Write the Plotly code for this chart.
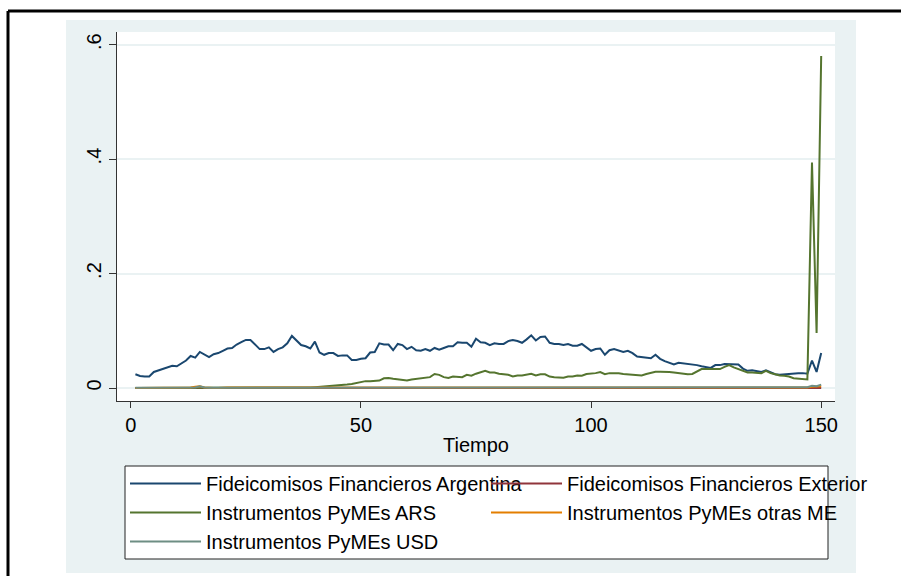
import plotly.graph_objects as go

# series, t = 1..150
tiempo = list(range(1, 151))

ff_argentina = [
    0.024, 0.021, 0.020, 0.020, 0.028, 0.031, 0.033, 0.037, 0.039, 0.038,
    0.043, 0.048, 0.056, 0.053, 0.063, 0.058, 0.054, 0.059, 0.061, 0.065,
    0.069, 0.070, 0.076, 0.080, 0.084, 0.084, 0.076, 0.068, 0.068, 0.071,
    0.063, 0.068, 0.071, 0.078, 0.091, 0.083, 0.075, 0.073, 0.069, 0.081,
    0.062, 0.058, 0.061, 0.061, 0.056, 0.057, 0.057, 0.049, 0.049, 0.051,
    0.052, 0.062, 0.063, 0.078, 0.076, 0.076, 0.066, 0.077, 0.075, 0.068,
    0.072, 0.066, 0.065, 0.068, 0.065, 0.070, 0.067, 0.070, 0.073, 0.073,
    0.080, 0.079, 0.079, 0.072, 0.086, 0.080, 0.079, 0.075, 0.078, 0.077,
    0.077, 0.082, 0.084, 0.082, 0.079, 0.085, 0.092, 0.083, 0.089, 0.090,
    0.079, 0.077, 0.077, 0.075, 0.077, 0.074, 0.074, 0.077, 0.071, 0.065,
    0.068, 0.069, 0.058, 0.066, 0.068, 0.065, 0.063, 0.065, 0.061, 0.055,
    0.054, 0.053, 0.052, 0.058, 0.051, 0.047, 0.044, 0.041, 0.044, 0.043,
    0.043, 0.042, 0.040, 0.038, 0.037, 0.035, 0.040, 0.040, 0.042, 0.042,
    0.041, 0.041, 0.034, 0.030, 0.031, 0.030, 0.028, 0.031, 0.027, 0.024,
    0.023, 0.024, 0.024, 0.025, 0.026, 0.026, 0.025, 0.048, 0.028, 0.061,
]

ff_exterior = [
    0.000, 0.000, 0.000, 0.000, 0.000, 0.000, 0.000, 0.000, 0.000, 0.000,
    0.000, 0.000, 0.000, 0.000, 0.000, 0.000, 0.000, 0.000, 0.000, 0.000,
    0.000, 0.000, 0.000, 0.000, 0.000, 0.000, 0.000, 0.000, 0.000, 0.000,
    0.000, 0.000, 0.000, 0.000, 0.000, 0.000, 0.000, 0.000, 0.000, 0.000,
    0.000, 0.000, 0.000, 0.000, 0.000, 0.000, 0.000, 0.000, 0.000, 0.000,
    0.000, 0.000, 0.000, 0.000, 0.000, 0.000, 0.000, 0.000, 0.000, 0.000,
    0.000, 0.000, 0.000, 0.000, 0.000, 0.000, 0.000, 0.000, 0.000, 0.000,
    0.000, 0.000, 0.000, 0.000, 0.000, 0.000, 0.000, 0.000, 0.000, 0.000,
    0.000, 0.000, 0.000, 0.000, 0.000, 0.000, 0.000, 0.000, 0.000, 0.000,
    0.000, 0.000, 0.000, 0.000, 0.000, 0.000, 0.000, 0.000, 0.000, 0.000,
    0.000, 0.000, 0.000, 0.000, 0.000, 0.000, 0.000, 0.000, 0.000, 0.000,
    0.000, 0.000, 0.000, 0.000, 0.000, 0.000, 0.000, 0.000, 0.000, 0.000,
    0.000, 0.000, 0.000, 0.000, 0.000, 0.000, 0.000, 0.000, 0.000, 0.000,
    0.000, 0.000, 0.000, 0.000, 0.000, 0.000, 0.000, 0.000, 0.000, 0.000,
    0.000, 0.000, 0.000, 0.000, 0.000, 0.000, 0.000, 0.000, 0.000, 0.000,
]

pymes_ars = [
    0.000, 0.000, 0.000, 0.000, 0.000, 0.000, 0.000, 0.000, 0.000, 0.000,
    0.000, 0.000, 0.000, 0.000, 0.000, 0.000, 0.000, 0.000, 0.000, 0.000,
    0.000, 0.000, 0.000, 0.000, 0.000, 0.000, 0.000, 0.000, 0.000, 0.000,
    0.000, 0.000, 0.000, 0.000, 0.000, 0.000, 0.000, 0.001, 0.001, 0.0015,
    0.002, 0.003, 0.0035, 0.004, 0.004, 0.005, 0.006, 0.007, 0.009, 0.010,
    0.012, 0.012, 0.013, 0.013, 0.017, 0.0175, 0.016, 0.015, 0.014, 0.013,
    0.015, 0.016, 0.016, 0.018, 0.019, 0.0245, 0.023, 0.019, 0.0175, 0.020,
    0.019, 0.019, 0.023, 0.0215, 0.025, 0.027, 0.030, 0.027, 0.027, 0.025,
    0.024, 0.023, 0.020, 0.022, 0.022, 0.024, 0.025, 0.022, 0.024, 0.024,
    0.020, 0.019, 0.019, 0.018, 0.020, 0.020, 0.022, 0.0215, 0.0245, 0.025,
    0.026, 0.028, 0.024, 0.026, 0.026, 0.0256, 0.0245, 0.024, 0.023, 0.023,
    0.022, 0.0245, 0.027, 0.0285, 0.0285, 0.0285, 0.028, 0.027, 0.026, 0.0245,
    0.024, 0.0245, 0.0285, 0.033, 0.033, 0.033, 0.034, 0.033, 0.037, 0.040,
    0.036, 0.033, 0.030, 0.027, 0.027, 0.027, 0.026, 0.030, 0.026, 0.024,
    0.022, 0.0215, 0.020, 0.017, 0.016, 0.016, 0.015, 0.394, 0.096, 0.580,
]

pymes_otras_me = [
    0.000, 0.000, 0.000, 0.000, 0.000, 0.000, 0.000, 0.000, 0.000, 0.000,
    0.000, 0.000, 0.001, 0.002, 0.003, 0.001, 0.000, 0.000, 0.000, 0.001,
    0.001, 0.001, 0.001, 0.001, 0.001, 0.001, 0.001, 0.001, 0.001, 0.001,
    0.001, 0.001, 0.001, 0.001, 0.001, 0.001, 0.001, 0.001, 0.000, 0.000,
    0.000, 0.000, 0.000, 0.000, 0.000, 0.000, 0.000, 0.000, 0.000, 0.000,
    0.000, 0.000, 0.000, 0.000, 0.000, 0.000, 0.000, 0.000, 0.000, 0.000,
    0.000, 0.000, 0.000, 0.000, 0.000, 0.000, 0.000, 0.000, 0.000, 0.000,
    0.000, 0.000, 0.000, 0.000, 0.000, 0.000, 0.000, 0.000, 0.000, 0.000,
    0.000, 0.000, 0.000, 0.000, 0.000, 0.000, 0.000, 0.000, 0.000, 0.000,
    0.000, 0.000, 0.000, 0.000, 0.000, 0.000, 0.000, 0.000, 0.000, 0.000,
    0.000, 0.000, 0.000, 0.000, 0.000, 0.000, 0.000, 0.000, 0.000, 0.000,
    0.000, 0.000, 0.000, 0.000, 0.000, 0.000, 0.000, 0.000, 0.000, 0.000,
    0.000, 0.000, 0.000, 0.000, 0.000, 0.000, 0.000, 0.000, 0.000, 0.000,
    0.000, 0.000, 0.000, 0.000, 0.000, 0.000, 0.000, 0.000, 0.000, 0.000,
    0.000, 0.000, 0.000, 0.000, 0.000, 0.001, 0.001, 0.002, 0.002, 0.003,
]

pymes_usd = [
    0.0005, 0.0005, 0.0005, 0.0005, 0.0005, 0.0005, 0.0005, 0.0005, 0.0005, 0.0005,
    0.0005, 0.0005, 0.0005, 0.001, 0.003, 0.001, 0.0005, 0.0005, 0.0005, 0.0005,
    0.0005, 0.0005, 0.0005, 0.001, 0.001, 0.001, 0.001, 0.001, 0.001, 0.0015,
    0.0015, 0.0015, 0.001, 0.001, 0.001, 0.001, 0.001, 0.0005, 0.0005, 0.0005,
    0.0005, 0.0005, 0.0005, 0.0005, 0.0005, 0.0005, 0.0005, 0.0005, 0.0005, 0.0005,
    0.0005, 0.0005, 0.0005, 0.0005, 0.0005, 0.0005, 0.0005, 0.0005, 0.0005, 0.0005,
    0.0005, 0.0005, 0.0005, 0.0005, 0.0005, 0.0005, 0.0005, 0.0005, 0.0005, 0.0005,
    0.0005, 0.0005, 0.0005, 0.0005, 0.0005, 0.0005, 0.0005, 0.0005, 0.0005, 0.0005,
    0.0005, 0.0005, 0.0005, 0.0005, 0.0005, 0.0005, 0.0005, 0.0005, 0.0005, 0.0005,
    0.0005, 0.0005, 0.0005, 0.0005, 0.0005, 0.0005, 0.0005, 0.0005, 0.0005, 0.0005,
    0.0005, 0.0005, 0.0005, 0.0005, 0.0005, 0.0005, 0.0005, 0.0005, 0.0005, 0.0005,
    0.0005, 0.0005, 0.0005, 0.0005, 0.0005, 0.0005, 0.0005, 0.0005, 0.0005, 0.0005,
    0.0005, 0.0005, 0.0005, 0.0005, 0.0005, 0.0005, 0.0005, 0.0005, 0.0005, 0.0005,
    0.0005, 0.0005, 0.0005, 0.0005, 0.0005, 0.0005, 0.0005, 0.0005, 0.0005, 0.0005,
    0.0005, 0.0005, 0.0005, 0.0005, 0.0005, 0.001, 0.0015, 0.004, 0.003, 0.006,
]

names = [
    "Fideicomisos Financieros Argentina",
    "Fideicomisos Financieros Exterior",
    "Instrumentos PyMEs ARS",
    "Instrumentos PyMEs otras ME",
    "Instrumentos PyMEs USD",
]
series = [ff_argentina, ff_exterior, pymes_ars, pymes_otras_me, pymes_usd]
colors = ["#1a476f", "#90353b", "#55752f", "#e37e00", "#6e8e84"]
# legend is laid out in two columns (row-major, like Stata cols(2))
legend_col = ["legend", "legend2", "legend", "legend2", "legend"]

y_tickvals = [0, 0.2, 0.4, 0.6]
y_ticktext = ["0", ".2", ".4", ".6"]
x_tickvals = [0, 50, 100, 150]

# page geometry (pixels)
W, H = 901, 576
ml, mr, mt, mb = 117, 66, 32, 175
pw = W - ml - mr
ph = H - mt - mb


def px_x(p):
    return (p - ml) / pw


def px_y(p):
    return (H - mb - p) / ph


font = "Liberation Sans, Arial, sans-serif"
fs = 20

fig = go.Figure()
for name, ys, c, lg in zip(names, series, colors, legend_col):
    fig.add_trace(
        go.Scatter(
            x=tiempo,
            y=ys,
            name=name,
            mode="lines",
            line=dict(color=c, width=2),
            legend=lg,
        )
    )

shapes = [
    # light graph region
    dict(type="rect", xref="paper", yref="paper", layer="below",
         x0=px_x(66), x1=px_x(856), y0=px_y(573), y1=px_y(20),
         fillcolor="#eaf2f3", line=dict(width=0)),
    # white plot region
    dict(type="rect", xref="paper", yref="paper", layer="below",
         x0=0, x1=1, y0=0, y1=1,
         fillcolor="white", line=dict(width=0)),
    # legend box
    dict(type="rect", xref="paper", yref="paper", layer="above",
         x0=px_x(125), x1=px_x(828), y0=px_y(559), y1=px_y(466),
         fillcolor="white", line=dict(color="#222222", width=1)),
    # outer black frame (top and left)
    dict(type="line", xref="paper", yref="paper", layer="above",
         x0=px_x(8), x1=px_x(905), y0=px_y(11), y1=px_y(11),
         line=dict(color="black", width=3)),
    dict(type="line", xref="paper", yref="paper", layer="above",
         x0=px_x(8), x1=px_x(8), y0=px_y(11), y1=px_y(580),
         line=dict(color="black", width=3)),
]

legend_common = dict(
    orientation="v",
    xanchor="left",
    yanchor="top",
    bgcolor="rgba(0,0,0,0)",
    borderwidth=0,
    itemwidth=71,
    tracegroupgap=0,
    font=dict(family=font, size=fs, color="black"),
    traceorder="normal",
)

fig.update_layout(
    width=W,
    height=H,
    margin=dict(l=ml, r=mr, t=mt, b=mb, pad=0, autoexpand=False),
    paper_bgcolor="white",
    plot_bgcolor="white",
    font=dict(family=font, size=fs, color="black"),
    shapes=shapes,
    showlegend=True,
    legend=dict(x=px_x(125), y=px_y(464), **legend_common),
    legend2=dict(x=px_x(486), y=px_y(464), **legend_common),
    xaxis=dict(
        range=[-3, 153],
        tickvals=x_tickvals,
        ticks="outside",
        ticklen=6,
        tickcolor="#333333",
        showline=True,
        linecolor="#333333",
        linewidth=1,
        showgrid=False,
        zeroline=False,
        title=dict(text="Tiempo", standoff=2, font=dict(size=fs)),
        tickfont=dict(size=fs),
    ),
    yaxis=dict(
        range=[-0.0227, 0.622],
        tickvals=y_tickvals,
        ticktext=y_ticktext,
        tickangle=-90,
        ticks="outside",
        ticklen=7,
        tickcolor="#333333",
        showline=True,
        linecolor="#333333",
        linewidth=1,
        showgrid=True,
        gridcolor="#eaf2f3",
        gridwidth=1.5,
        zeroline=False,
        tickfont=dict(size=fs),
    ),
)

# page body has a default 8px margin; drop it so the figure sits at (0, 0)
fig.write_html(
    "out.html",
    config={"displayModeBar": False},
    post_script="document.body.style.margin = '0px';",
)
